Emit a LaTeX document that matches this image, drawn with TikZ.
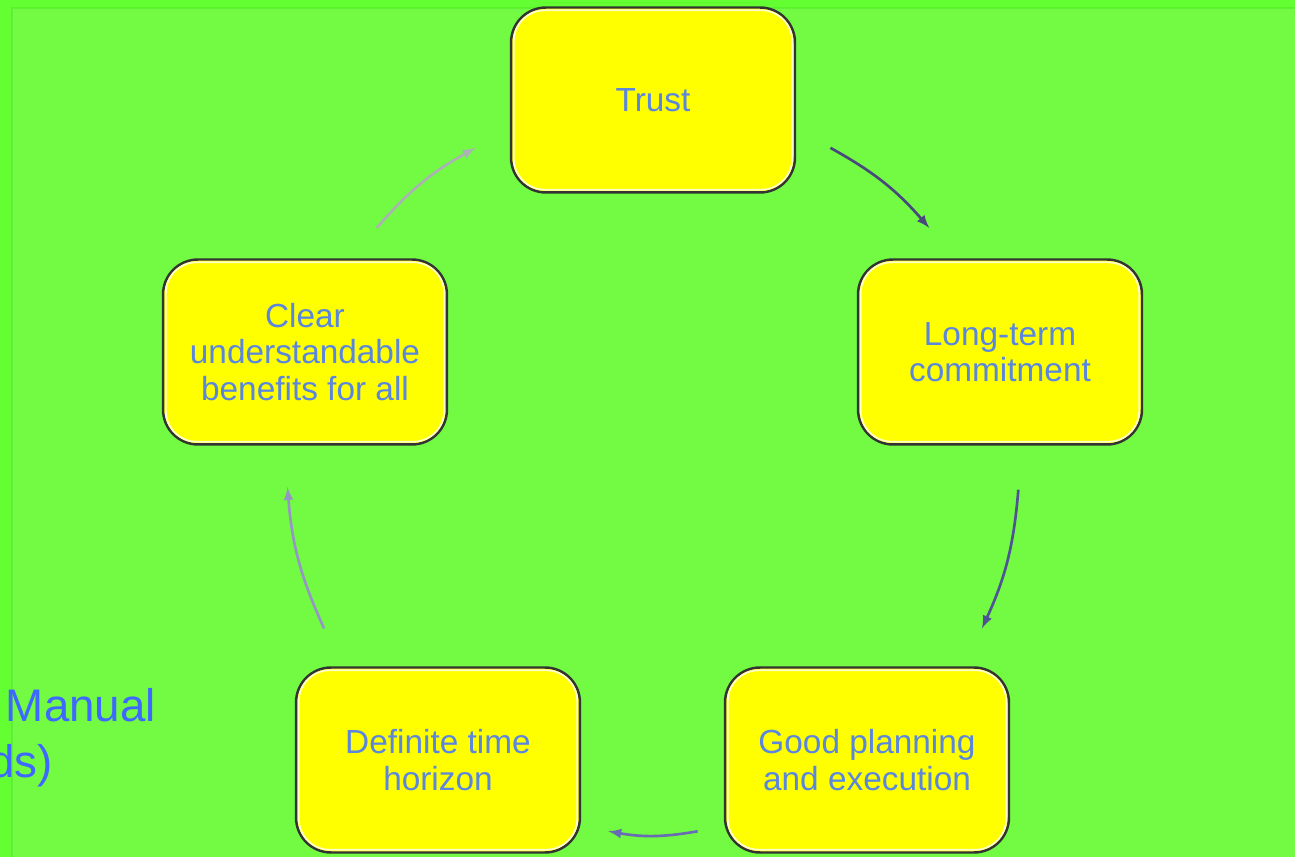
\documentclass[tikz,border=0pt]{standalone}
\usepackage{fontspec}
\setmainfont{Liberation Sans}
\usetikzlibrary{calc}
\definecolor{bggreen}{RGB}{100,255,50}
\definecolor{panelgreen}{RGB}{114,251,66}
\definecolor{boxyellow}{RGB}{255,255,0}
\definecolor{boxtext}{RGB}{90,134,222}
\definecolor{sidetext}{RGB}{62,104,255}
\definecolor{arrowA}{RGB}{72,72,125}
\definecolor{arrowB}{RGB}{80,82,150}
\definecolor{arrowC}{RGB}{105,108,180}
\definecolor{arrowD}{RGB}{150,150,196}
\definecolor{arrowE}{RGB}{170,178,180}

\begin{document}
\begin{tikzpicture}[x=0.02cm, y=0.02cm,
    stepbox/.style={draw=black!80, line width=1.4pt, fill=boxyellow, rounded corners=0.7cm,
      minimum width=5.68cm, minimum height=3.7cm, inner sep=0pt, align=center,
      text=boxtext, font=\fontsize{19}{20.7}\selectfont},
    cycarrow/.style={-latex, line width=1.5pt, bend left=10}]
    \clip (0, 0) rectangle (1295, -857);
    \fill [bggreen] (0, 0) rectangle (1295, -857);
    \fill [panelgreen] (12, -8) rectangle (1295, -857);
    \draw [green!70!black, opacity=0.15, line width=0.6pt] (12, -857) -- (12, -8) -- (1295, -8);

    \node [stepbox] (trust) at (653, -100) {Trust};
    \node [stepbox] (commit) at (1000, -352) {Long-term\\commitment};
    \node [stepbox] (plan) at (867, -760) {Good planning\\and execution};
    \node [stepbox] (horizon) at (438, -760) {Definite time\\horizon};
    \node [stepbox] (benefit) at (305, -352) {Clear\\understandable\\benefits for all};

    \foreach \b in {trust, commit, plan, horizon, benefit}
        \draw [white, opacity=0.8, line width=1pt, rounded corners=0.62cm]
            ([shift={(4,-4)}]\b.north west) rectangle ([shift={(-4,4)}]\b.south east);

    \coordinate (hub) at (653, -468);
    \foreach \s/\e/\n in {61/41/1, -3.4/-26/2, -83/-97/3, 206/183/4, 139/119/5} {
        \coordinate (s\n) at ($(hub)+(\s:366)$);
        \coordinate (e\n) at ($(hub)+(\e:366)$);
    }
    \foreach \n/\c in {1/arrowA, 2/arrowB, 3/arrowC, 4/arrowD, 5/arrowE}
        \draw [cycarrow, \c] (s\n) to (e\n);

    \node [anchor=base east, text=sidetext, font=\fontsize{26}{30}\selectfont] (manual) at (162, -722) {Manual};
    \node [anchor=base east, text=sidetext, font=\fontsize{26}{30}\selectfont] (cont) at (59, -778) {ds)};
\end{tikzpicture}
\end{document}
